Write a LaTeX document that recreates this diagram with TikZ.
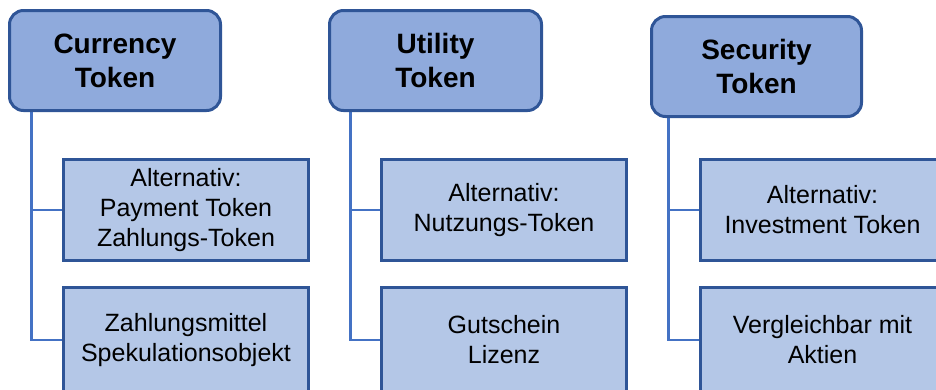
\documentclass[tikz,border=0pt]{standalone}
\usepackage{fontspec}
\setmainfont{Liberation Sans}
\usetikzlibrary{positioning}
\definecolor{headfill}{HTML}{8FAADC}
\definecolor{subfill}{HTML}{B4C7E7}
\definecolor{frame}{HTML}{2F5597}
\definecolor{branch}{HTML}{4472C4}
\pgfdeclarelayer{background}
\pgfsetlayers{background,main}
\tikzset{
  head/.style={draw=frame,fill=headfill,line width=3pt,rounded corners=14pt,align=center,
    minimum height=100pt,inner sep=0pt,font=\fontsize{28}{34}\selectfont\bfseries},
  item/.style={draw=frame,fill=subfill,line width=3pt,align=center,
    minimum width=245pt,inner sep=0pt,font=\fontsize{25}{30}\selectfont},
  link/.style={draw=branch,line width=2.6pt}
}

\begin{document}
\begin{tikzpicture}[x=1pt,y=-1pt]
  \path[use as bounding box,clip] (0,0) rectangle (936,389);
  % Spalte 1
  \node[head,minimum width=211pt] (cur) at (115,60.5) {Currency\\Token};
  \node[item,minimum height=101pt] (cur1) at (186,210) {Alternativ:\\Payment Token\\Zahlungs-Token};
  \node[item,minimum height=105pt] (cur2) at (186,340) {Zahlungsmittel\\Spekulationsobjekt};
  % Spalte 2
  \node[head,minimum width=212pt] (uti) at (435.5,60.5) {Utility\\Token};
  \node[item,minimum height=101pt] (uti1) at (504,210) {Alternativ:\\Nutzungs-Token};
  \node[item,minimum height=105pt] (uti2) at (504,340) {Gutschein\\Lizenz};
  % Spalte 3
  \node[head,minimum width=210pt] (sec) at (756.5,66.5) {Security\\Token};
  \node[item,minimum height=101pt] (sec1) at (822.5,210) {Alternativ:\\Investment Token};
  \node[item,minimum height=105pt] (sec2) at (822.5,340) {Vergleichbar mit\\Aktien};
  \begin{pgfonlayer}{background}
    \draw[link] ([xshift=23.5pt]cur.south west) |- (cur1.west);
    \draw[link] ([xshift=23.5pt]cur.south west) |- (cur2.west);
    \draw[link] ([xshift=22.5pt]uti.south west) |- (uti1.west);
    \draw[link] ([xshift=22.5pt]uti.south west) |- (uti2.west);
    \draw[link] ([xshift=18.5pt]sec.south west) |- (sec1.west);
    \draw[link] ([xshift=18.5pt]sec.south west) |- (sec2.west);
  \end{pgfonlayer}
\end{tikzpicture}
\end{document}
